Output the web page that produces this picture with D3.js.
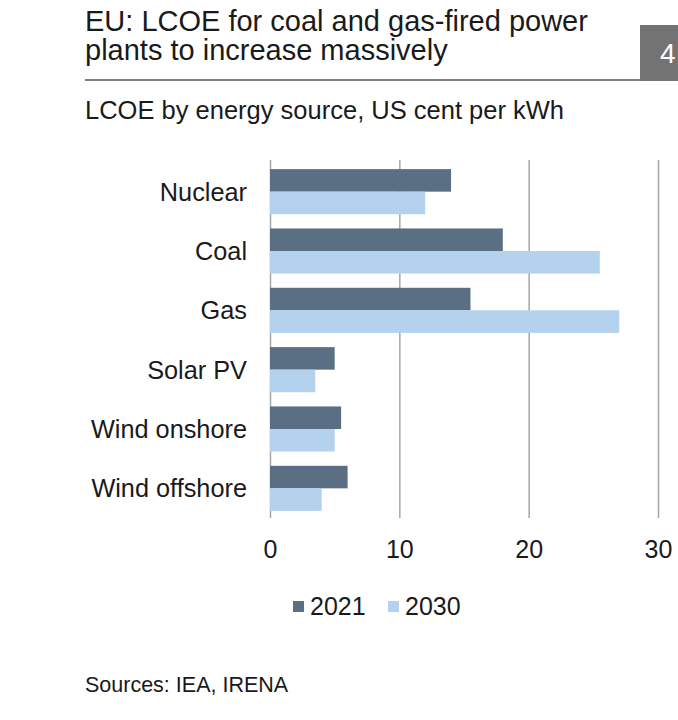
<!DOCTYPE html>
<html><head><meta charset="utf-8">
<script src="https://cdn.jsdelivr.net/npm/d3@7"></script>
<style>body{margin:0;background:#fff}svg{display:block;font-family:"Liberation Sans",Arial,sans-serif}</style>
</head><body><svg id="c" width="678" height="720"></svg>
<script>
const categories = ["Nuclear","Coal","Gas","Solar PV","Wind onshore","Wind offshore"];
const series = ["2021","2030"];
const values2021 = [14,18,15.5,5,5.5,6];
const values2030 = [12,25.5,27,3.5,5,4];
const xTicks = [0,10,20,30];
const colors = ["#5b6f84","#b4d1ee"];

const svg = d3.select("#c");
// Title block
svg.append("text").attr("x",85).attr("y",31).attr("font-size",29).attr("fill","#1a1a1a").text("EU: LCOE for coal and gas-fired power");
svg.append("text").attr("x",85).attr("y",60).attr("font-size",29).attr("fill","#1a1a1a").text("plants to increase massively");
svg.append("line").attr("x1",85).attr("x2",640).attr("y1",80).attr("y2",80).attr("stroke","#808080").attr("stroke-width",2);
svg.append("rect").attr("x",640).attr("y",25).attr("width",38).attr("height",56).attr("fill","#737373");
svg.append("text").attr("x",660).attr("y",63).attr("font-size",28).attr("fill","#fff").text("4");
svg.append("text").attr("x",85).attr("y",119).attr("font-size",25.5).attr("fill","#1a1a1a").text("LCOE by energy source, US cent per kWh");

const x = d3.scaleLinear().domain([0,30]).range([270,658]);
const y = d3.scaleBand().domain(categories).range([162,518]).paddingInner(0.24).paddingOuter(0.12);
const ys = d3.scaleBand().domain(series).range([0,y.bandwidth()]);

// gridlines
const grid = svg.append("g").attr("transform","translate(0,160)")
  .call(d3.axisBottom(x).tickValues(xTicks).tickSize(358).tickFormat(""));
grid.select(".domain").remove();
grid.selectAll(".tick line").attr("stroke","#a6a6a6").attr("stroke-width",1.5);

const data = categories.map((c,i)=>({c, v:[values2021[i],values2030[i]]}));
const g = svg.append("g").selectAll("g").data(data).join("g").attr("transform",d=>`translate(0,${y(d.c)})`);
g.selectAll("rect").data(d=>d.v.map((v,j)=>({v,s:series[j],j}))).join("rect")
  .attr("x",x(0)).attr("y",d=>ys(d.s)).attr("height",ys.bandwidth()).attr("width",d=>x(d.v)-x(0))
  .attr("fill",d=>colors[d.j]);

// category labels
const yAx = svg.append("g").attr("transform","translate(258,0)").call(d3.axisLeft(y).tickSize(0).tickPadding(11));
yAx.select(".domain").remove();
yAx.selectAll("text").attr("font-size",25.3).attr("fill","#1a1a1a").attr("font-family","Liberation Sans, Arial, sans-serif").attr("dy","0.35em");

// x tick labels
const xAx = svg.append("g").attr("transform","translate(0,530)").call(d3.axisBottom(x).tickValues(xTicks).tickSize(0).tickPadding(10).tickFormat(d3.format("d")));
xAx.select(".domain").remove();
xAx.selectAll("text").attr("font-size",25).attr("fill","#1a1a1a").attr("font-family","Liberation Sans, Arial, sans-serif");

// legend
const lx = [293,388];
series.forEach((s,i)=>{
  svg.append("rect").attr("x",lx[i]).attr("y",601).attr("width",11).attr("height",11).attr("fill",colors[i]);
  svg.append("text").attr("x",lx[i]+17).attr("y",615).attr("font-size",25).attr("fill","#1a1a1a").text(s);
});
svg.append("text").attr("x",85).attr("y",692).attr("font-size",21.5).attr("fill","#1a1a1a").text("Sources: IEA, IRENA");
</script></body></html>
